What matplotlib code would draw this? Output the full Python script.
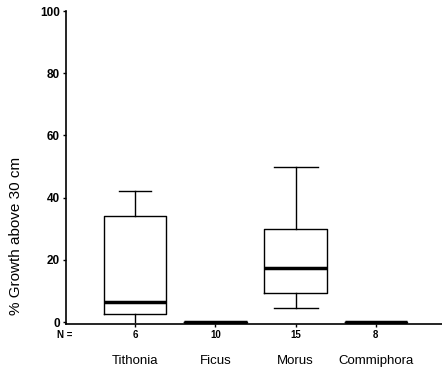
import matplotlib
matplotlib.use("Agg")
import matplotlib.pyplot as plt

categories = ["Tithonia", "Ficus", "Morus", "Commiphora"]
n_values = [6, 10, 15, 8]
whislo = [0, 0, 4.5, 0]
q1 = [2.5, 0, 9.5, 0]
med = [6.5, 0, 17.5, 0]
q3 = [34, 0, 30, 0]
whishi = [42, 0, 50, 0]
yticks = [0, 20, 40, 60, 80, 100]

plt.rcParams['font.family'] = ['Liberation Sans', 'DejaVu Sans']

fig = plt.figure(figsize=(4.42, 3.68), dpi=100)
ax = fig.add_axes([66/442, (368-324)/368, 1 - 66/442, (324-11)/368])

stats = []
for i, c in enumerate(categories):
    stats.append(dict(label=str(n_values[i]), whislo=whislo[i], q1=q1[i], med=med[i],
                      q3=q3[i], whishi=whishi[i], fliers=[]))
pos = [1, 2, 3, 4]
art = ax.bxp(stats, positions=pos, widths=0.78, capwidths=[0.4, 0.4, 0.55, 0.4],
             showfliers=False,
             boxprops=dict(color='black', linewidth=1.0),
             whiskerprops=dict(color='black', linewidth=1.0),
             capprops=dict(color='black', linewidth=1.0),
             medianprops=dict(color='black', linewidth=2.5))
art['caps'][0].set_visible(False)

ax.set_xlim(0.1375, 4.825)
ax.set_ylim(-0.6, 100)
ax.set_yticks(yticks)
ax.set_yticklabels([str(v) for v in yticks], fontsize=8.5, fontweight='bold')
ax.set_xticks(pos)
ax.set_xticklabels([str(v) for v in n_values], fontsize=7, fontweight='bold')
ax.tick_params(axis='both', direction='out', length=2.5, width=1, pad=2, colors='black')
ax.spines['top'].set_visible(False)
ax.spines['right'].set_visible(False)
ax.spines['left'].set_linewidth(1.2)
ax.spines['bottom'].set_linewidth(1.2)

fig.text(57/442, 1 - 335/368, "N =", fontsize=7, fontweight='bold', ha='left', va='center')
for i, c in enumerate(categories):
    ax.text(pos[i], -0.117, c, transform=ax.get_xaxis_transform(),
            fontsize=9.5, ha='center', va='center')

fig.text(16/442, 1 - 236/368, "% Growth above 30 cm", rotation=90, fontsize=11,
         ha='center', va='center')

fig.savefig("out.png", dpi=100)
